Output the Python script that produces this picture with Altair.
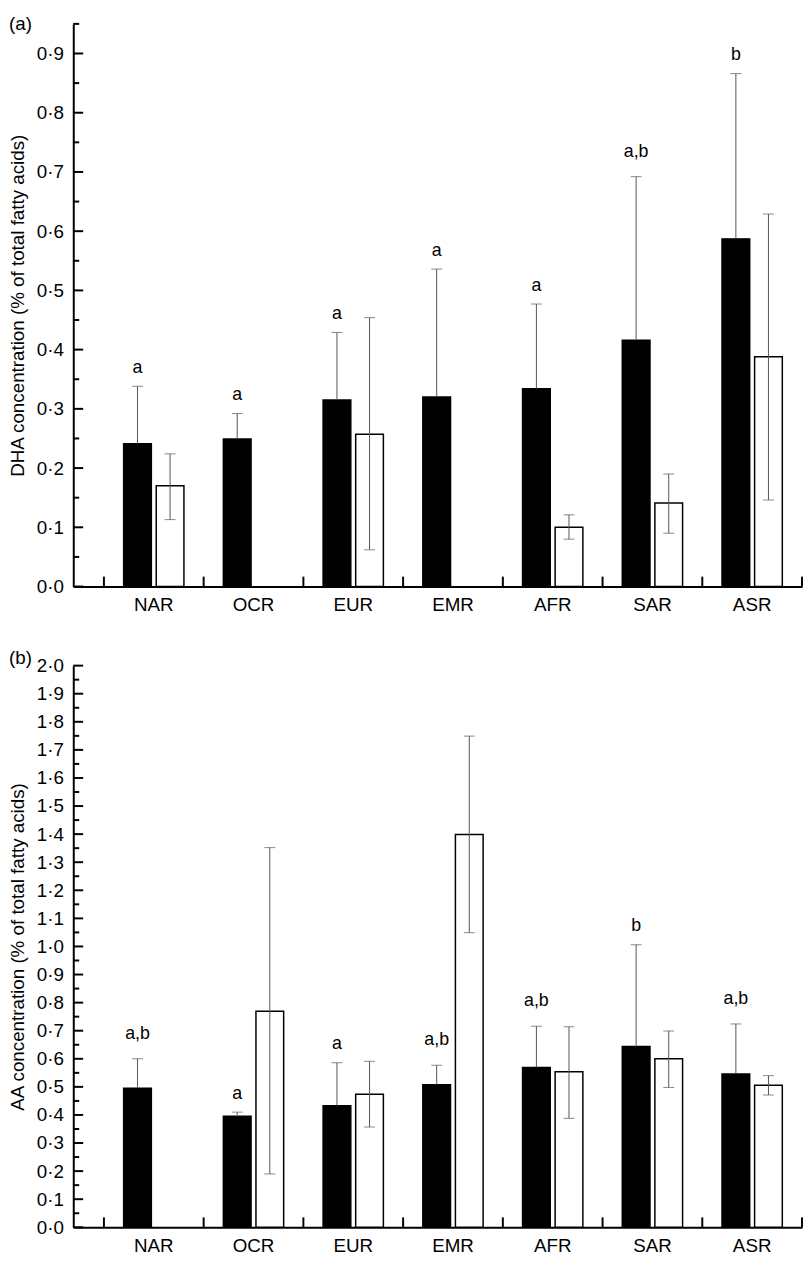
import altair as alt
import pandas as pd

FONT = "Liberation Sans"

regions = ["NAR", "OCR", "EUR", "EMR", "AFR", "SAR", "ASR"]
groups = ["black", "white"]

# Panel (a): DHA
dha_black_mean = [0.241, 0.249, 0.315, 0.320, 0.334, 0.416, 0.587]
dha_black_upper = [0.338, 0.292, 0.429, 0.536, 0.477, 0.692, 0.866]
dha_letters = ["a", "a", "a", "a", "a", "a,b", "b"]
dha_white_mean = [0.170, None, 0.257, None, 0.100, 0.141, 0.388]
dha_white_upper = [0.224, None, 0.454, None, 0.121, 0.190, 0.629]
dha_white_lower = [0.113, None, 0.062, None, 0.080, 0.090, 0.146]

# Panel (b): AA
aa_black_mean = [0.495, 0.395, 0.433, 0.508, 0.569, 0.644, 0.546]
aa_black_upper = [0.600, 0.410, 0.586, 0.577, 0.716, 1.006, 0.724]
aa_letters = ["a,b", "a", "a", "a,b", "a,b", "b", "a,b"]
aa_white_mean = [None, 0.769, 0.474, 1.399, 0.554, 0.600, 0.506]
aa_white_upper = [None, 1.352, 0.591, 1.749, 0.714, 0.699, 0.540]
aa_white_lower = [None, 0.190, 0.357, 1.049, 0.388, 0.498, 0.471]

# axis tick values
dha_major = [round(i * 0.1, 2) for i in range(10)]
dha_minor = [round(0.05 + i * 0.1, 2) for i in range(10)]
aa_major = [round(i * 0.1, 2) for i in range(21)]
aa_minor = [round(0.05 + i * 0.1, 2) for i in range(20)]


def build_df(bm, bu, letters, wm, wu, wl):
    rows = []
    for i, r in enumerate(regions):
        rows.append({"region": r, "grp": "black", "mean": bm[i], "lo": bm[i],
                     "hi": bu[i], "letter": letters[i]})
        if wm[i] is not None:
            rows.append({"region": r, "grp": "white", "mean": wm[i], "lo": wl[i],
                         "hi": wu[i], "letter": ""})
    return pd.DataFrame(rows)


W = 737
LABEL_EXPR = "replace(format(datum.value, '.1f'), '.', '\u00b7')"
ERR_COLOR = "#555555"


def panel(df, ymax, major, minor, ytitle, tag, H, tag_y):
    xs = alt.Scale(domain=regions, paddingInner=0, paddingOuter=0.1537, align=1, round=False)
    xo = alt.Scale(domain=groups, paddingInner=0.15, paddingOuter=0.605, round=False)
    ys = alt.Scale(domain=[0, ymax], nice=False, zero=True)

    x_axis = alt.Axis(title=None, labelAngle=0, labelFontSize=19, labelPadding=9,
                      ticks=False, tickSize=0, domainWidth=2, domainColor="black",
                      labelColor="black", labelFont=FONT, grid=False)
    y_axis = alt.Axis(title=ytitle, values=major, labelExpr=LABEL_EXPR,
                      labelFontSize=19, labelPadding=10, ticks=False, tickSize=0,
                      domainWidth=2, domainColor="black", titleFontSize=19,
                      titleFontWeight="normal", titlePadding=9, grid=False,
                      labelColor="black", titleColor="black",
                      labelFont=FONT, titleFont=FONT)

    def X(**kw):
        return alt.X("region:N", scale=xs, sort=regions, axis=x_axis, **kw)

    def Y(field):
        return alt.Y(field, scale=ys, axis=y_axis)

    XO = alt.XOffset("grp:N", scale=xo, sort=groups)
    base = alt.Chart(df)

    bars = base.mark_bar(stroke="black", strokeWidth=1.5).encode(
        x=X(), xOffset=XO, y=Y("mean:Q"),
        fill=alt.Fill("grp:N", scale=alt.Scale(domain=groups, range=["#000000", "#ffffff"]),
                      legend=None),
    )

    err = base.mark_rule(color=ERR_COLOR, strokeWidth=1).encode(
        x=X(), xOffset=XO, y=Y("lo:Q"), y2="hi:Q",
    )
    cap_hi = base.mark_tick(color=ERR_COLOR, thickness=1, size=11).encode(
        x=X(), xOffset=XO, y=Y("hi:Q"),
    )
    cap_lo = base.transform_filter("datum.grp == 'white'").mark_tick(
        color=ERR_COLOR, thickness=1, size=11).encode(
        x=X(), xOffset=XO, y=Y("lo:Q"),
    )

    txt_single = base.transform_filter(
        "datum.grp == 'black' && indexof(datum.letter, ',') < 0").mark_text(
        baseline="alphabetic", dy=-13.5, fontSize=18, font=FONT, color="black").encode(
        x=X(), xOffset=XO, y=Y("hi:Q"), text="letter:N",
    )
    txt_pair = base.transform_filter(
        "datum.grp == 'black' && indexof(datum.letter, ',') >= 0").mark_text(
        baseline="alphabetic", dy=-20, fontSize=18, font=FONT, color="black").encode(
        x=X(), xOffset=XO, y=Y("hi:Q"), text="letter:N",
    )

    ymaj = alt.Chart(pd.DataFrame({"v": major})).mark_rule(color="black", strokeWidth=2).encode(
        y=Y("v:Q"), x=alt.value(0), x2=alt.value(10),
    )
    ymin = alt.Chart(pd.DataFrame({"v": minor})).mark_rule(color="black", strokeWidth=2).encode(
        y=Y("v:Q"), x=alt.value(0), x2=alt.value(6),
    )

    xt_df = pd.DataFrame({"region": regions})
    xt = alt.Chart(xt_df).mark_rule(color="black", strokeWidth=2).encode(
        x=X(bandPosition=0), y=alt.value(H - 10), y2=alt.value(H),
    )
    xt_end = alt.Chart(xt_df).transform_filter(
        alt.datum.region == regions[-1]).mark_rule(color="black", strokeWidth=2).encode(
        x=X(bandPosition=1), y=alt.value(H - 10), y2=alt.value(H),
    )

    tag_txt = alt.Chart(pd.DataFrame({"t": [tag]})).mark_text(
        align="left", baseline="top", fontSize=19, font=FONT, color="black").encode(
        text="t:N", x=alt.value(-65), y=alt.value(tag_y),
    )

    return alt.layer(bars, err, cap_hi, cap_lo, txt_single, txt_pair, ymaj, ymin,
                     xt, xt_end, tag_txt).properties(width=W, height=H)


df_a = build_df(dha_black_mean, dha_black_upper, dha_letters,
                dha_white_mean, dha_white_upper, dha_white_lower)
df_b = build_df(aa_black_mean, aa_black_upper, aa_letters,
                aa_white_mean, aa_white_upper, aa_white_lower)

pa = panel(df_a, 0.95, dha_major, dha_minor,
           "DHA concentration (% of total fatty acids)", "(a)", 569, -9)
pb = panel(df_b, 2.0, aa_major, aa_minor,
           "AA concentration (% of total fatty acids)", "(b)", 568, -17)

chart = alt.vconcat(pa, pb, spacing=35).properties(
    padding={"left": 0, "top": 0, "right": 0, "bottom": -4}
).configure_view(stroke=None).configure_axis(grid=False)

chart.save("out.html", embed_options={"renderer": "svg", "actions": False})
